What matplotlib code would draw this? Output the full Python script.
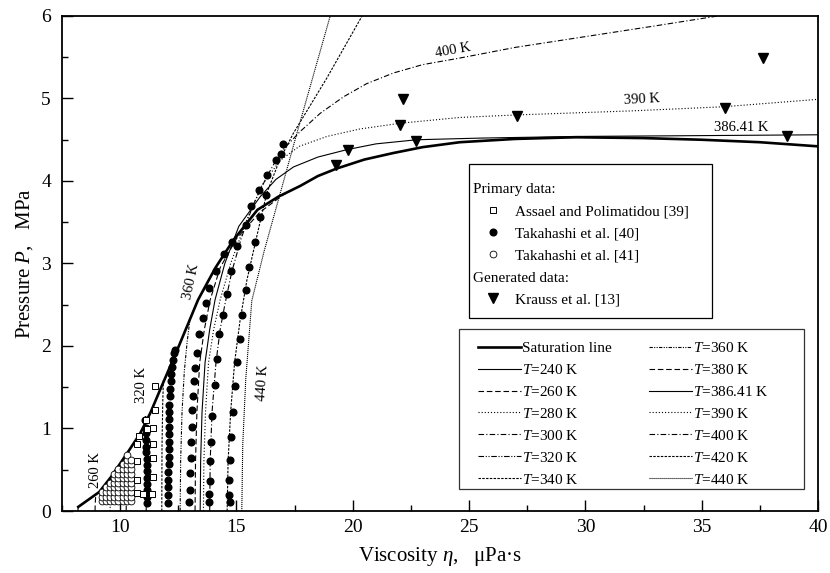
import matplotlib
matplotlib.use("Agg")
import matplotlib.pyplot as plt
from matplotlib.lines import Line2D
from matplotlib.patches import Rectangle
from matplotlib.ticker import MultipleLocator

plt.rcParams["font.family"] = "Liberation Serif"
plt.rcParams["mathtext.fontset"] = "custom"
plt.rcParams["mathtext.rm"] = "Liberation Serif"
plt.rcParams["mathtext.it"] = "Liberation Serif:italic"

# saturation line (viscosity, pressure)
sat_eta = [8.2, 8.6, 9.1, 9.6, 10.3, 10.86, 11.3, 11.72, 12.45, 13.35, 14.1, 14.86,
           15.9, 16.8, 17.74, 18.5, 19.3, 20.5, 21.76, 23.0, 24.6, 27.0, 29.6,
           32.5, 35.0, 37.5, 40.0]
sat_p = [0.05, 0.13, 0.23, 0.41, 0.70, 0.94, 1.19, 1.47, 1.95, 2.56, 2.95, 3.28,
         3.65, 3.81, 3.94, 4.06, 4.15, 4.26, 4.34, 4.41, 4.47, 4.51, 4.53,
         4.52, 4.50, 4.47, 4.42]

# isotherms
t240_eta = [8.18, 8.2]
t240_p = [0.0, 0.05]
t260_eta = [8.92, 8.93, 8.95]
t260_p = [0.0, 0.10, 0.19]
t280_eta = [9.57, 9.57, 9.58]
t280_p = [0.0, 0.20, 0.40]
t300_eta = [10.26, 10.27, 10.28]
t300_p = [0.0, 0.35, 0.69]
t320_eta = [11.12, 11.12, 11.09]
t320_p = [0.0, 0.60, 1.17]
t340_eta = [11.79, 11.80, 11.83, 11.86]
t340_p = [0.0, 0.80, 1.30, 1.60]
t360_eta = [12.58, 12.60, 12.66, 12.76, 12.88, 13.0]
t360_p = [0.0, 0.60, 1.20, 1.70, 2.05, 2.32]
t380_eta = [13.22, 13.24, 13.30, 13.42, 13.62, 13.87, 14.3, 15.0, 16.0, 17.0, 17.6]
t380_p = [0.0, 0.60, 1.20, 1.80, 2.20, 2.56, 2.95, 3.30, 3.62, 3.83, 3.92]
t386_eta = [13.44, 13.46, 13.52, 13.65, 13.85, 14.08, 14.5, 15.1, 16.02, 16.7, 17.45,
            18.5, 19.75, 21.0, 22.76, 25.5, 29.6, 35.0, 40.0]
t386_p = [0.0, 0.60, 1.20, 1.80, 2.20, 2.56, 3.00, 3.45, 3.81, 4.02, 4.17,
          4.29, 4.38, 4.45, 4.50, 4.52, 4.54, 4.55, 4.56]
t390_eta = [13.58, 13.60, 13.67, 13.80, 14.02, 14.3, 14.75, 15.4, 16.1, 16.88, 17.7,
            18.89, 20.3, 22.04, 24.6, 27.0, 32.0, 35.96, 40.0]
t390_p = [0.0, 0.60, 1.20, 1.80, 2.20, 2.56, 3.00, 3.50, 3.95, 4.25, 4.42,
          4.54, 4.63, 4.70, 4.77, 4.80, 4.85, 4.90, 4.99]
t400_eta = [13.85, 13.87, 13.95, 14.12, 14.3, 14.5, 14.8, 15.2, 15.7, 16.3, 16.9,
            17.74, 18.6, 19.6, 20.6, 21.76, 23.0, 24.6, 27.0, 30.0, 33.0, 35.7]
t400_p = [0.0, 0.60, 1.20, 1.80, 2.20, 2.50, 2.90, 3.30, 3.70, 4.05, 4.35,
          4.60, 4.82, 5.02, 5.18, 5.31, 5.41, 5.49, 5.62, 5.75, 5.88, 6.0]
t420_eta = [14.6, 14.64, 14.75, 14.92, 15.15, 15.45, 15.85, 16.3, 16.85, 17.45, 18.89, 20.4]
t420_p = [0.0, 0.60, 1.20, 1.80, 2.30, 2.80, 3.30, 3.85, 4.25, 4.58, 5.25, 6.0]
t440_eta = [15.23, 15.27, 15.4, 15.66, 16.2, 17.6, 19.03]
t440_p = [0.0, 0.80, 1.60, 2.55, 3.16, 4.58, 6.0]

iso_names = ["240", "260", "280", "300", "320", "340", "360",
             "380", "386.41", "390", "400", "420", "440"]
iso_eta = [t240_eta, t260_eta, t280_eta, t300_eta, t320_eta, t340_eta, t360_eta,
           t380_eta, t386_eta, t390_eta, t400_eta, t420_eta, t440_eta]
iso_p = [t240_p, t260_p, t280_p, t300_p, t320_p, t340_p, t360_p,
         t380_p, t386_p, t390_p, t400_p, t420_p, t440_p]
iso_styles = ["-", (0, (5, 2.5)), (0, (1, 1.8)), (0, (5, 2, 1, 2)),
              (0, (5, 1.5, 1, 1.5, 1, 1.5)), (0, (2.2, 1.2)), (0, (3, 1.2, 1, 1.2, 1, 1.2)),
              (0, (5, 2.5)), "-", (0, (1, 1.8)), (0, (5, 2, 1, 2)),
              (0, (2.2, 1.2)), (0, (1, 0.8))]

# Assael and Polimatidou [39]
assael_eta = [11.50, 11.50, 11.43, 11.43, 11.43, 11.40, 11.36,
              10.83, 10.74, 10.71, 10.71, 10.74, 11.11, 11.15, 11.0]
assael_p = [1.51, 1.23, 1.00, 0.81, 0.64, 0.41, 0.21,
            0.91, 0.81, 0.60, 0.38, 0.22, 1.10, 0.99, 0.21]

# Takahashi et al. [40] (filled circles), one list per isotherm column
colA_eta = [11.16, 11.16, 11.16, 11.15, 11.15, 11.15, 11.14, 11.14, 11.13, 11.12,
            11.11, 11.10, 11.09, 11.08]
colA_p = [0.10, 0.17, 0.25, 0.33, 0.40, 0.48, 0.56, 0.63, 0.71, 0.78,
          0.86, 0.94, 1.01, 1.10]
colB_eta = [12.07, 12.07, 12.07, 12.07, 12.07, 12.08, 12.08, 12.08, 12.09, 12.09, 12.10,
            12.10, 12.11, 12.12, 12.13, 12.15, 12.17, 12.20, 12.24, 12.28, 12.32, 12.36]
colB_p = [0.10, 0.19, 0.29, 0.38, 0.47, 0.57, 0.66, 0.75, 0.84, 0.93, 1.02,
          1.11, 1.20, 1.29, 1.39, 1.48, 1.57, 1.66, 1.75, 1.83, 1.91, 1.95]
colC_eta = [12.98, 13.01, 13.01, 13.04, 13.04, 13.08, 13.08, 13.12, 13.18, 13.22, 13.30,
            13.41, 13.55, 13.70, 13.84, 14.13, 14.47, 14.80]
colC_p = [0.11, 0.25, 0.46, 0.64, 0.84, 1.02, 1.22, 1.39, 1.57, 1.73, 1.91,
          2.15, 2.34, 2.52, 2.70, 2.91, 3.12, 3.26]
colD_eta = [13.84, 13.84, 13.87, 13.87, 13.90, 13.97, 14.08, 14.16, 14.27, 14.41,
            14.59, 14.76, 15.04, 15.39, 15.62, 15.99, 16.33, 16.71, 16.91, 16.99]
colD_p = [0.11, 0.21, 0.36, 0.60, 0.84, 1.15, 1.53, 1.84, 2.15, 2.38,
          2.63, 2.91, 3.21, 3.47, 3.70, 3.89, 4.07, 4.25, 4.33, 4.45]
colE_eta = [14.72, 14.70, 14.68, 14.74, 14.78, 14.85, 14.93, 15.02, 15.14, 15.25,
            15.39, 15.56, 15.80, 16.02, 16.28]
colE_p = [0.11, 0.19, 0.38, 0.62, 0.90, 1.20, 1.51, 1.81, 2.08, 2.38,
          2.68, 2.96, 3.26, 3.56, 3.83]

# Takahashi et al. [41] (open circles): columns of viscosity, pressure rows, rows used per column
t41_cols = [9.21, 9.39, 9.57, 9.75, 9.92, 10.11, 10.28, 10.46]
t41_rows = [0.12, 0.17, 0.23, 0.29, 0.34, 0.40, 0.45, 0.51, 0.57, 0.62, 0.68]
t41_count = [3, 4, 5, 7, 8, 9, 11, 10]

# Krauss et al. [13]
krauss_eta = [19.29, 19.78, 22.01, 22.16, 22.73, 27.04, 36.0, 37.65, 38.68]
krauss_p = [4.19, 4.38, 4.68, 4.99, 4.49, 4.79, 4.89, 5.49, 4.55]

fig = plt.figure(figsize=(8.3, 5.73), dpi=100)
ax = fig.add_axes([0.0747, 0.1082, 0.9108, 0.8639])

ax.plot(sat_eta, sat_p, color="black", lw=1.9, zorder=3)
for eta, p, ls in zip(iso_eta, iso_p, iso_styles):
    ax.plot(eta, p, color="black", lw=0.8, linestyle=ls, zorder=2)

dot = dict(ls="none", marker="o", ms=4.8, color="black", zorder=4)
for eta, p in [(colA_eta, colA_p), (colB_eta, colB_p), (colC_eta, colC_p),
               (colD_eta, colD_p), (colE_eta, colE_p)]:
    ax.plot(eta, p, **dot)

t41_eta = []
t41_p = []
for x, n in zip(t41_cols, t41_count):
    for y in t41_rows[:n]:
        t41_eta.append(x)
        t41_p.append(y)
ax.plot(t41_eta, t41_p, ls="none", marker="o", ms=4.9, mfc="white", mec="black",
        mew=0.6, zorder=5)
ax.plot(assael_eta, assael_p, ls="none", marker="s", ms=4.4, mfc="white", mec="black",
        mew=0.7, zorder=5)
ax.plot(krauss_eta, krauss_p, ls="none", marker="v", ms=6.5, color="black", zorder=5)

# isotherm labels
lab = dict(fontsize=10.5, ha="center", va="center")
ax.text(8.95, 0.50, "260 K", rotation=90, **lab)
ax.text(10.9, 1.53, "320 K", rotation=90, **lab)
ax.text(13.04, 2.78, "360 K", rotation=78, **lab)
ax.text(16.13, 1.55, "440 K", rotation=86, **lab)
ax.text(24.3, 5.58, "400 K", rotation=10, **lab)
ax.text(32.45, 4.99, "390 K", rotation=3, **lab)
ax.text(36.72, 4.65, "386.41 K", **lab)

ax.set_xlim(7.5, 40)
ax.set_ylim(0, 6)
ax.xaxis.set_major_locator(MultipleLocator(5))
ax.xaxis.set_minor_locator(MultipleLocator(2.5))
ax.yaxis.set_major_locator(MultipleLocator(1))
ax.yaxis.set_minor_locator(MultipleLocator(0.5))
ax.tick_params(which="both", direction="in", top=False, right=False, width=1.0,
               labelsize=14)
ax.tick_params(which="major", length=8)
ax.tick_params(which="minor", length=4.5)
ax.tick_params(axis="x", pad=6)
ax.tick_params(axis="y", pad=8)
for s in ax.spines.values():
    s.set_linewidth(1.3)

ax.set_xlabel("Viscosity $\\eta$,   μPa·s", fontsize=15, labelpad=6)
ax.set_ylabel("Pressure $P$,   MPa", fontsize=15, labelpad=4)

# data legend
ax.add_patch(Rectangle((0.538, 0.390), 0.322, 0.311, transform=ax.transAxes,
                       fill=False, lw=0.9, ec="black", zorder=6))
blank = Line2D([], [], ls="none")
h_sq = Line2D([], [], ls="none", marker="s", ms=4.4, mfc="white", mec="black", mew=0.7)
h_dot = Line2D([], [], ls="none", marker="o", ms=4.8, color="black")
h_circ = Line2D([], [], ls="none", marker="o", ms=4.9, mfc="white", mec="black", mew=0.6)
h_tri = Line2D([], [], ls="none", marker="v", ms=6.5, color="black")
leg1 = ax.legend([blank, h_sq, h_dot, h_circ, blank, h_tri],
                 [" ", "Assael and Polimatidou [39]", "Takahashi et al. [40]",
                  "Takahashi et al. [41]", " ", "Krauss et al. [13]"],
                 loc="upper left", bbox_to_anchor=(0.5604, 0.6635), frameon=False,
                 borderpad=0, borderaxespad=0, handlelength=1.0, handletextpad=0.9,
                 labelspacing=0.55, fontsize=11)
ax.add_artist(leg1)

# line legend
ax.add_patch(Rectangle((0.525, 0.0444), 0.456, 0.3236, transform=ax.transAxes,
                       fill=False, lw=0.9, ec="#333333", zorder=6))
handles = [Line2D([], [], color="black", lw=1.9)]
labels = ["Saturation line"]
for name, ls in zip(iso_names, iso_styles):
    handles.append(Line2D([], [], color="black", lw=0.8, linestyle=ls))
    labels.append("$T$=" + name + " K")
leg2 = ax.legend(handles, labels, ncol=2, loc="upper left",
                 bbox_to_anchor=(0.5503, 0.3435), frameon=False, borderpad=0,
                 borderaxespad=0, handlelength=2.8, handletextpad=0.1,
                 columnspacing=2.4, labelspacing=0.52, fontsize=11)

fig.canvas.draw()
inv = ax.transAxes.inverted()
for i, hdr in [(0, "Primary data:"), (4, "Generated data:")]:
    bb = leg1.get_texts()[i].get_window_extent()
    yc = inv.transform((0, (bb.y0 + bb.y1) / 2))[1]
    ax.text(0.5433, yc, hdr, transform=ax.transAxes, fontsize=11,
            ha="left", va="center")

fig.savefig("out.png", dpi=100)
